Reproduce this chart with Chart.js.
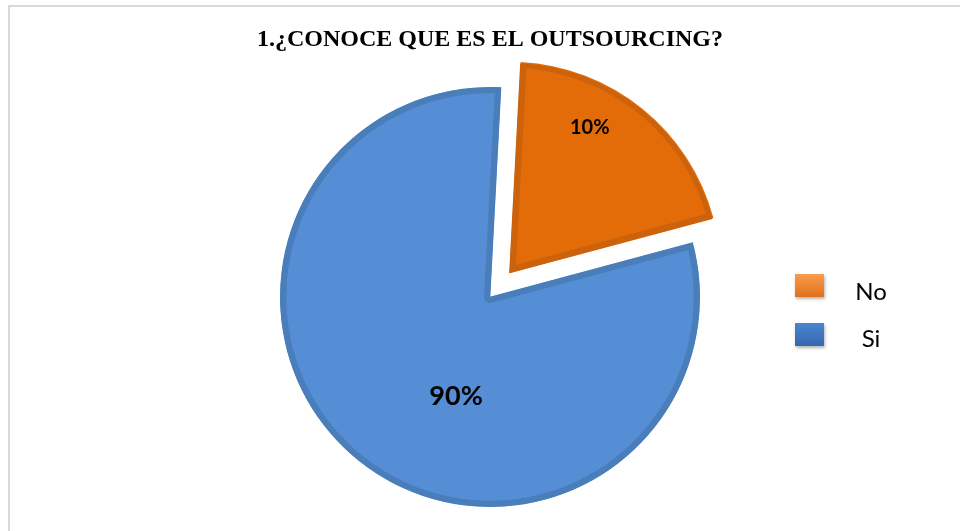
<!DOCTYPE html>
<html>
<head>
<meta charset="utf-8">
<script src="https://cdn.jsdelivr.net/npm/chart.js@4.4.1/dist/chart.umd.min.js"></script>
<style>
  html, body { margin: 0; padding: 0; background: #ffffff; }
  #wrap { width: 960px; height: 531px; }
</style>
</head>
<body>
<div id="wrap"><canvas id="pieChart" width="960" height="531"></canvas></div>
<script>
const chartTitle = "1.¿CONOCE QUE ES EL OUTSOURCING?";
const categories = ["No", "Si"];
const sliceValues = [20, 80];
const percentLabels = ["10%", "90%"];

const fillColors = ["#e36c09", "#558ed5"];
const borderColors = ["#cc620c", "#4a7ebb"];
const legendTop = ["#fa9c4c", "#4a86cf"];
const legendBottom = ["#e0701c", "#3568ae"];

// chart.js moves an arc by offset/4, so 124 pulls the slice out ~31px
const sliceOffset = [124, 0];

// where the percent text sits inside each slice: share of the sweep, share of the radius, font size
const labelSpots = [
  { along: 0.36, out: 0.79, size: 20 },
  { along: 0.43, out: 0.5, size: 27 },
];

const decorPlugin = {
  id: "decor",
  beforeDraw(chart) {
    const ctx = chart.ctx;
    ctx.save();
    ctx.fillStyle = "#d9d9d9";
    ctx.fillRect(8, 5, 952, 2);
    ctx.fillRect(8, 5, 2, 526);

    ctx.fillStyle = "#000";
    ctx.font = "bold 24px 'Liberation Serif', 'Times New Roman', serif";
    ctx.textAlign = "center";
    ctx.textBaseline = "middle";
    ctx.fillText(chartTitle, 490, 40);
    ctx.restore();
  },
  afterDraw(chart) {
    const ctx = chart.ctx;
    const ds = chart.data.datasets[0];
    const arcs = chart.getDatasetMeta(0).data;

    ctx.save();
    ctx.textAlign = "center";
    ctx.textBaseline = "middle";
    ctx.fillStyle = "#000";
    arcs.forEach((arc, i) => {
      const p = arc.getProps(["x", "y", "startAngle", "endAngle", "outerRadius"], true);
      const mid = (p.startAngle + p.endAngle) / 2;
      const off = (ds.offset[i] || 0) / 4;
      const cx = p.x + Math.cos(mid) * off;
      const cy = p.y + Math.sin(mid) * off;
      const spot = labelSpots[i];
      const a = p.startAngle + (p.endAngle - p.startAngle) * spot.along;
      const r = p.outerRadius * spot.out;
      ctx.font = `bold ${spot.size}px Lato, 'Open Sans', sans-serif`;
      ctx.fillText(percentLabels[i], cx + Math.cos(a) * r, cy + Math.sin(a) * r);
    });

    // legend on the right
    chart.data.labels.forEach((name, i) => {
      const bx = 795, by = 274 + i * 49, bw = 29, bh = 23;
      ctx.save();
      ctx.shadowColor = "rgba(0,0,0,0.3)";
      ctx.shadowBlur = 3;
      ctx.shadowOffsetX = 1;
      ctx.shadowOffsetY = 2;
      const g = ctx.createLinearGradient(0, by, 0, by + bh);
      g.addColorStop(0, legendTop[i]);
      g.addColorStop(1, legendBottom[i]);
      ctx.fillStyle = g;
      ctx.fillRect(bx, by, bw, bh);
      ctx.restore();
      ctx.font = "24px Lato, 'Open Sans', sans-serif";
      ctx.fillStyle = "#000";
      ctx.textAlign = "center";
      ctx.fillText(name, 871, 292 + i * 47);
    });
    ctx.restore();
  },
};

new Chart(document.getElementById("pieChart"), {
  type: "pie",
  data: {
    labels: categories,
    datasets: [
      {
        data: sliceValues,
        backgroundColor: fillColors,
        borderColor: borderColors,
        borderWidth: 6,
        borderAlign: "inner",
        offset: sliceOffset,
      },
    ],
  },
  options: {
    responsive: false,
    animation: false,
    rotation: 3,
    radius: 210,
    layout: { padding: { left: 20, right: 0, top: 63, bottom: 0 } },
    plugins: {
      legend: { display: false },
      title: { display: false },
      tooltip: { enabled: false },
    },
  },
  plugins: [decorPlugin],
});
</script>
</body>
</html>
